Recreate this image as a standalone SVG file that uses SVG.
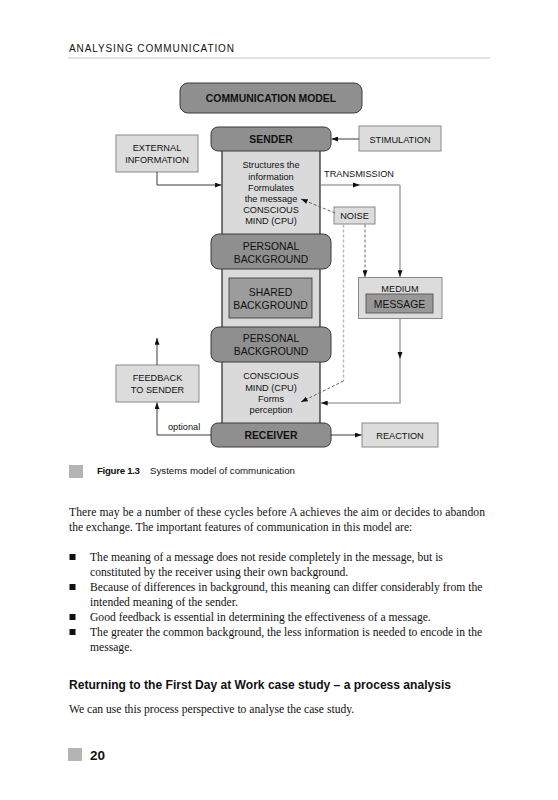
<svg xmlns="http://www.w3.org/2000/svg" width="558" height="800" viewBox="0 0 558 800">
<defs>
<style>
.sans{font-family:"Liberation Sans",Arial,sans-serif;fill:#111}
.d{font-size:9.2px;text-anchor:middle}
.big{font-size:10.4px;text-anchor:middle}
.bold{font-weight:bold}
.serif{font-family:"Liberation Serif","Times New Roman",serif;font-size:11.6px;fill:#111}
.dark{fill:#8f8f8f;stroke:#3a3a3a;stroke-width:1}
.light{fill:#dcdcdc;stroke:#8a8a8a;stroke-width:1}
.col{fill:#dadada;stroke:none}
.conn{fill:none;stroke:#222;stroke-width:0.9}
.gray{fill:none;stroke:#a8a8a8;stroke-width:1.6}
.dash{fill:none;stroke:#555;stroke-width:0.9;stroke-dasharray:3 2}
.ldash{fill:none;stroke:#b5b5b5;stroke-width:1.4;stroke-dasharray:3 2}
.ah{fill:#111}
</style>
<marker id="arr" viewBox="0 0 8 6" refX="8" refY="3" markerWidth="7" markerHeight="5" markerUnits="userSpaceOnUse" orient="auto">
<path d="M0,0 L8,3 L0,6 z" fill="#111"/>
</marker>
</defs>

<!-- page header -->
<text class="sans" x="69" y="52" font-size="10" textLength="165" lengthAdjust="spacing">ANALYSING COMMUNICATION</text>
<rect x="68" y="57" width="422" height="2" fill="#e2e2e2"/>

<!-- column background -->
<g id="column">
<rect class="col" x="222" y="150" width="98" height="274"/>
<line x1="222" y1="150" x2="222" y2="424" stroke="#222" stroke-width="1.2"/>
<line x1="320" y1="150" x2="320" y2="424" stroke="#222" stroke-width="1.2"/>
</g>

<g id="title">
<rect class="dark" x="180" y="83" width="182" height="30" rx="8"/>
<text class="sans big bold" x="271" y="102">COMMUNICATION MODEL</text>
</g>

<g id="sender">
<rect class="dark" x="211" y="127" width="120" height="24" rx="7"/>
<text class="sans big bold" x="271" y="143">SENDER</text>
</g>

<g id="sender-mind">
<text class="sans d" x="271" y="168">Structures the</text>
<text class="sans d" x="271" y="180">information</text>
<text class="sans d" x="271" y="191">Formulates</text>
<text class="sans d" x="271" y="202">the message</text>
<text class="sans d" x="271" y="213">CONSCIOUS</text>
<text class="sans d" x="271" y="224">MIND (CPU)</text>
</g>

<g id="stimulation">
<rect class="light" x="359" y="126" width="82" height="25"/>
<text class="sans d" x="400" y="142.5">STIMULATION</text>
</g>

<g id="external">
<rect class="light" x="116" y="135" width="82" height="37"/>
<text class="sans d" x="157" y="151">EXTERNAL</text>
<text class="sans d" x="157" y="163">INFORMATION</text>
</g>

<g id="noise">
<rect class="light" x="334" y="207" width="41" height="17"/>
<text class="sans d" x="354.5" y="219">NOISE</text>
</g>

<g id="personal1">
<rect class="dark" x="211" y="234" width="120" height="35" rx="8"/>
<text class="sans big" x="271" y="250">PERSONAL</text>
<text class="sans big" x="271" y="263">BACKGROUND</text>
</g>

<g id="shared">
<rect x="229" y="278" width="83" height="40" fill="#9c9c9c" stroke="#444" stroke-width="0.9"/>
<text class="sans big" x="270.5" y="296">SHARED</text>
<text class="sans big" x="270.5" y="309">BACKGROUND</text>
</g>

<g id="medium">
<rect class="light" x="358.5" y="277.5" width="83.5" height="41"/>
<text class="sans d" x="400" y="292">MEDIUM</text>
<rect x="366" y="294" width="67" height="19" fill="#989898" stroke="#555" stroke-width="0.9"/>
<text class="sans big" x="399.5" y="307.5">MESSAGE</text>
</g>

<g id="personal2">
<rect class="dark" x="211" y="327" width="120" height="35" rx="8"/>
<text class="sans big" x="271" y="342">PERSONAL</text>
<text class="sans big" x="271" y="355">BACKGROUND</text>
</g>

<g id="receiver-mind">
<text class="sans d" x="271" y="379">CONSCIOUS</text>
<text class="sans d" x="271" y="390.5">MIND (CPU)</text>
<text class="sans d" x="271" y="402">Forms</text>
<text class="sans d" x="271" y="413">perception</text>
</g>

<g id="feedback">
<rect class="light" x="116" y="365" width="83" height="37"/>
<text class="sans d" x="157.5" y="381">FEEDBACK</text>
<text class="sans d" x="157.5" y="392.5">TO SENDER</text>
</g>

<g id="receiver">
<rect class="dark" x="211" y="423" width="120" height="24" rx="7"/>
<text class="sans big bold" x="271" y="439">RECEIVER</text>
</g>

<g id="reaction">
<rect class="light" x="362" y="423" width="76" height="24"/>
<text class="sans d" x="400" y="439">REACTION</text>
</g>

<g id="connectors">
<path class="conn" d="M359,139 L331.5,139" marker-end="url(#arr)"/>
<path class="conn" d="M157,172 L157,185 L221.5,185" marker-end="url(#arr)"/>
<path d="M320,185 L400,185" fill="none" stroke="#777" stroke-width="1"/>
<path class="gray" d="M400,185 L400,277" marker-end="url(#arr)"/>
<polygon class="ah" points="360,185 353,182.5 353,187.5"/>
<text class="sans d" x="359" y="177">TRANSMISSION</text>
<path class="dash" d="M335,213 L301,199" marker-end="url(#arr)"/>
<path class="dash" d="M365,224.5 L365,277" marker-end="url(#arr)"/>
<path class="ldash" d="M343.5,224.5 L343.5,381"/>
<path class="dash" d="M343.5,381 L301,402" marker-end="url(#arr)"/>
<path class="gray" d="M400,319 L400,403 L321,403" marker-end="url(#arr)"/>
<polygon class="ah" points="400,359 397.5,352 402.5,352"/>
<path class="conn" d="M331,435 L361.5,435" marker-end="url(#arr)"/>
<path class="conn" d="M211,435 L157,435 L157,402.5" marker-end="url(#arr)"/>
<text class="sans" x="168" y="430" font-size="9.2">optional</text>
<path class="conn" d="M157,365 L157,338" marker-end="url(#arr)"/>
</g>

<!-- caption -->
<rect x="69" y="465" width="14" height="13" fill="#b4b4b4"/>
<text class="sans" x="97" y="473.5" font-size="9.7"><tspan font-weight="bold" textLength="43">Figure 1.3</tspan><tspan x="150" textLength="145">Systems model of communication</tspan></text>

<!-- body text -->
<text class="serif" x="69" y="516" textLength="416" lengthAdjust="spacing">There may be a number of these cycles before A achieves the aim or decides to abandon</text>
<text class="serif" x="69" y="531">the exchange. The important features of communication in this model are:</text>

<rect x="69.5" y="554" width="6" height="6" fill="#111"/>
<text class="serif" x="90" y="561">The meaning of a message does not reside completely in the message, but is</text>
<text class="serif" x="90" y="576">constituted by the receiver using their own background.</text>
<rect x="69.5" y="584" width="6" height="6" fill="#111"/>
<text class="serif" x="90" y="591">Because of differences in background, this meaning can differ considerably from the</text>
<text class="serif" x="90" y="606">intended meaning of the sender.</text>
<rect x="69.5" y="614" width="6" height="6" fill="#111"/>
<text class="serif" x="90" y="621">Good feedback is essential in determining the effectiveness of a message.</text>
<rect x="69.5" y="629" width="6" height="6" fill="#111"/>
<text class="serif" x="90" y="636">The greater the common background, the less information is needed to encode in the</text>
<text class="serif" x="90" y="651">message.</text>

<text class="sans" x="69" y="689" font-size="12.5" font-weight="bold" textLength="382" lengthAdjust="spacingAndGlyphs">Returning to the First Day at Work case study – a process analysis</text>
<text class="serif" x="69" y="713">We can use this process perspective to analyse the case study.</text>

<rect x="68" y="748" width="14" height="13" fill="#b4b4b4"/>
<text class="sans" x="90" y="760" font-size="13.5" font-weight="bold">20</text>
</svg>
